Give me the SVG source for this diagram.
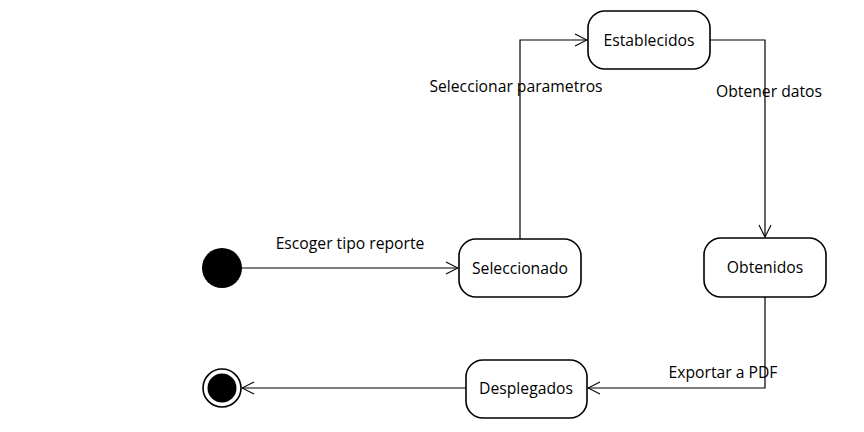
<svg xmlns="http://www.w3.org/2000/svg" width="864" height="432" viewBox="0 0 864 432">
<style>
.st{fill:#fff;stroke:#000;stroke-width:1.6}
.lbl{font-family:"Open Sans","Liberation Sans",sans-serif;font-size:15.7px;fill:#000}
.c{fill:none;stroke:#000;stroke-width:1.2}
</style>
<defs>
<marker id="open" markerWidth="14" markerHeight="14" refX="13" refY="7" orient="auto" markerUnits="userSpaceOnUse">
<path d="M1,1 L13,7 L1,13" fill="none" stroke="#000" stroke-width="1.1"/>
</marker>
</defs>
<rect width="864" height="432" fill="#fff"/>
<g id="connectors">
<line class="c" x1="242" y1="268" x2="458" y2="268" marker-end="url(#open)"/>
<polyline class="c" points="520,239 520,40 587,40" marker-end="url(#open)"/>
<polyline class="c" points="710,40 765,40 765,237" marker-end="url(#open)"/>
<polyline class="c" points="765,297 765,388 588,388" marker-end="url(#open)"/>
<line class="c" x1="466" y1="388" x2="242" y2="388" marker-end="url(#open)"/>
<text class="lbl" x="350" y="249" text-anchor="middle">Escoger tipo reporte</text>
<text class="lbl" x="516" y="92" text-anchor="middle">Seleccionar parametros</text>
<text class="lbl" x="769" y="97" text-anchor="middle">Obtener datos</text>
<text class="lbl" x="723" y="378" text-anchor="middle">Exportar a PDF</text>
</g>
<g id="initial">
<circle cx="222" cy="268" r="20" fill="#000"/>
</g>
<g id="seleccionado">
<rect class="st" x="459" y="239" width="122" height="58" rx="17"/>
<text class="lbl" x="520" y="274" text-anchor="middle">Seleccionado</text>
</g>
<g id="establecidos">
<rect class="st" x="588" y="11" width="122" height="58" rx="17"/>
<text class="lbl" x="649" y="46" text-anchor="middle">Establecidos</text>
</g>
<g id="obtenidos">
<rect class="st" x="704" y="238" width="122" height="59" rx="17"/>
<text class="lbl" x="765" y="273" text-anchor="middle">Obtenidos</text>
</g>
<g id="desplegados">
<rect class="st" x="466" y="360" width="121" height="58" rx="17"/>
<text class="lbl" x="526" y="394" text-anchor="middle">Desplegados</text>
</g>
<g id="final">
<circle cx="222" cy="388" r="19" fill="#fff" stroke="#000" stroke-width="1.6"/>
<circle cx="222" cy="388" r="14.5" fill="#000"/>
</g>
</svg>
